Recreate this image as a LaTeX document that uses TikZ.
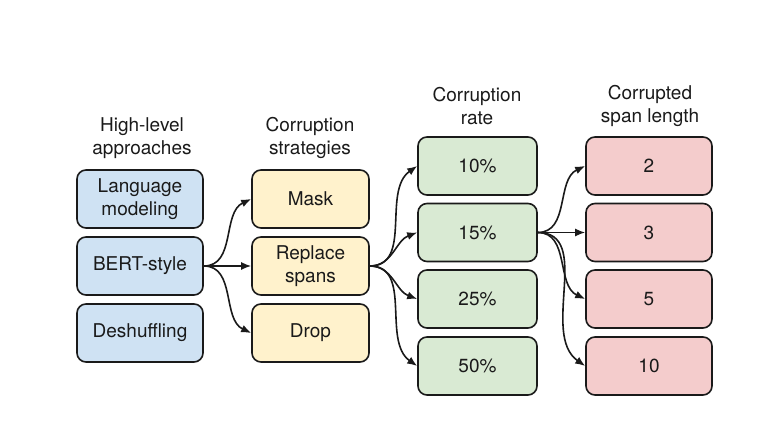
\documentclass[tikz,border=0pt]{standalone}
\usepackage{fontspec}
\setmainfont{TeX Gyre Heros}
\usetikzlibrary{arrows.meta}
\definecolor{fblue}{HTML}{CFE2F3}
\definecolor{fyellow}{HTML}{FFF2CC}
\definecolor{fgreen}{HTML}{D9EAD3}
\definecolor{fred}{HTML}{F4CCCC}
\definecolor{ink}{HTML}{1A1A1A}
\begin{document}
\begin{tikzpicture}[x=1pt,y=1pt,
  font=\fontsize{19}{22.5}\selectfont,
  box/.style={draw=ink, line width=1.6pt, rounded corners=9pt, inner sep=0pt,
    minimum height=58pt, align=center, text=ink},
  bluebox/.style={box, fill=fblue, minimum width=126pt},
  yellowbox/.style={box, fill=fyellow, minimum width=117pt},
  greenbox/.style={box, fill=fgreen, minimum width=119pt},
  redbox/.style={box, fill=fred, minimum width=126pt},
  head/.style={align=center, text=ink, inner sep=0pt},
  arr/.style={draw=ink, line width=1.6pt, -{Latex[length=10pt,width=8pt]}}]
\useasboundingbox (0,0) rectangle (772,439);

% column headings
\node[head] (h1) at (142,301) {High-level\\approaches};
\node[head] (h2) at (310,301) {Corruption\\strategies};
\node[head] (h3) at (477,333) {Corruption\\rate};
\node[head] (h4) at (650,333) {Corrupted\\span length};

% high-level approaches
\node[bluebox] (lm)   at (140,240) {Language\\modeling};
\node[bluebox] (bert) at (140,173) {BERT-style};
\node[bluebox] (desh) at (140,106) {Deshuffling};

% corruption strategies
\node[yellowbox] (mask) at (310.5,240) {Mask};
\node[yellowbox] (repl) at (310.5,173) {Replace\\spans};
\node[yellowbox] (drop) at (310.5,106) {Drop};

% corruption rates
\node[greenbox] (r10) at (477.5,273) {10\%};
\node[greenbox] (r15) at (477.5,206.5) {15\%};
\node[greenbox] (r25) at (477.5,140) {25\%};
\node[greenbox] (r50) at (477.5,73) {50\%};

% corrupted span lengths
\node[redbox] (s2)  at (649,273) {2};
\node[redbox] (s3)  at (649,206.5) {3};
\node[redbox] (s5)  at (649,140) {5};
\node[redbox] (s10) at (649,73) {10};

% connectors
\draw[arr] (bert.east) to[out=0,in=205] (mask.west);
\draw[arr] (bert.east) -- (repl.west);
\draw[arr] (bert.east) to[out=0,in=155] (drop.west);

\draw[arr] (repl.east) to[out=0,in=215] (r10.west);
\draw[arr] (repl.east) to[out=0,in=200] (r15.west);
\draw[arr] (repl.east) to[out=0,in=160] (r25.west);
\draw[arr] (repl.east) to[out=0,in=145] (r50.west);

\draw[arr] (r15.east) to[out=0,in=205] (s2.west);
\draw[arr] (r15.east) -- (s3.west);
\draw[arr] (r15.east) to[out=0,in=155] (s5.west);
\draw[arr] (r15.east) to[out=0,in=145] (s10.west);
\end{tikzpicture}
\end{document}
